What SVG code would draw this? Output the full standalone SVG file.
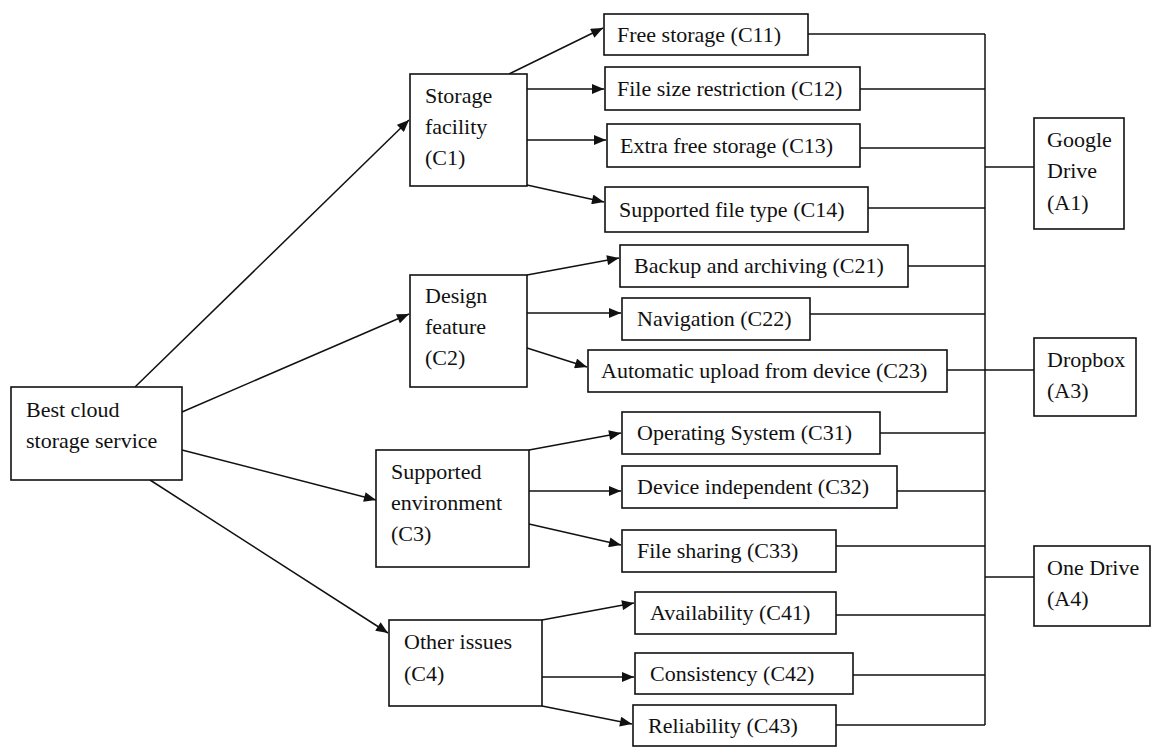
<svg xmlns="http://www.w3.org/2000/svg" width="1161" height="747" viewBox="0 0 1161 747">
<style>
.b{fill:#fff;stroke:#111;stroke-width:1.6}
.t{font-family:"Liberation Serif","Times New Roman",serif;font-size:22px;fill:#111}
.c{stroke:#111;stroke-width:1.5;fill:none}
</style>
<defs>
<marker id="ah" viewBox="0 0 12 10" refX="12" refY="5" markerWidth="13" markerHeight="10" markerUnits="userSpaceOnUse" orient="auto">
<path d="M0,0 L12,5 L0,10 Z" fill="#111"/>
</marker>
</defs>
<rect width="1161" height="747" fill="#fff"/>
<g id="connectors">
<line class="c" x1="135" y1="387" x2="409" y2="120" marker-end="url(#ah)"/>
<line class="c" x1="182" y1="412" x2="409" y2="314" marker-end="url(#ah)"/>
<line class="c" x1="182" y1="450" x2="376" y2="500" marker-end="url(#ah)"/>
<line class="c" x1="150" y1="480" x2="388" y2="633" marker-end="url(#ah)"/>
<line class="c" x1="509" y1="74" x2="603" y2="28" marker-end="url(#ah)"/>
<line class="c" x1="527" y1="89" x2="604" y2="89" marker-end="url(#ah)"/>
<line class="c" x1="527" y1="140" x2="606" y2="140" marker-end="url(#ah)"/>
<line class="c" x1="527" y1="185" x2="604" y2="202" marker-end="url(#ah)"/>
<line class="c" x1="527" y1="275" x2="619" y2="258" marker-end="url(#ah)"/>
<line class="c" x1="527" y1="313" x2="621" y2="313" marker-end="url(#ah)"/>
<line class="c" x1="527" y1="348" x2="587" y2="367" marker-end="url(#ah)"/>
<line class="c" x1="529" y1="450" x2="621" y2="433" marker-end="url(#ah)"/>
<line class="c" x1="529" y1="491" x2="621" y2="491" marker-end="url(#ah)"/>
<line class="c" x1="529" y1="524" x2="621" y2="545" marker-end="url(#ah)"/>
<line class="c" x1="542" y1="620" x2="634" y2="603" marker-end="url(#ah)"/>
<line class="c" x1="542" y1="677" x2="634" y2="677" marker-end="url(#ah)"/>
<line class="c" x1="542" y1="706" x2="632" y2="724" marker-end="url(#ah)"/>
<line class="c" x1="985" y1="34" x2="985" y2="725"/>
<line class="c" x1="808" y1="34" x2="985" y2="34"/>
<line class="c" x1="860" y1="89" x2="985" y2="89"/>
<line class="c" x1="860" y1="148" x2="985" y2="148"/>
<line class="c" x1="868" y1="208" x2="985" y2="208"/>
<line class="c" x1="908" y1="266" x2="985" y2="266"/>
<line class="c" x1="810" y1="314" x2="985" y2="314"/>
<line class="c" x1="947" y1="370" x2="1034" y2="370"/>
<line class="c" x1="880" y1="433" x2="985" y2="433"/>
<line class="c" x1="897" y1="491" x2="985" y2="491"/>
<line class="c" x1="836" y1="546" x2="985" y2="546"/>
<line class="c" x1="836" y1="615" x2="985" y2="615"/>
<line class="c" x1="853" y1="675" x2="985" y2="675"/>
<line class="c" x1="836" y1="725" x2="985" y2="725"/>
<line class="c" x1="985" y1="167" x2="1034" y2="167"/>
<line class="c" x1="985" y1="577" x2="1034" y2="577"/>
</g>
<g id="root"><rect class="b" x="11" y="387" width="171" height="93"/><text class="t" x="26" y="417">Best cloud</text><text class="t" x="26" y="448">storage service</text></g>
<g id="C1"><rect class="b" x="410" y="74" width="117" height="112"/><text class="t" x="425" y="103">Storage</text><text class="t" x="425" y="134">facility</text><text class="t" x="425" y="165">(C1)</text></g>
<g id="C2"><rect class="b" x="410" y="275" width="117" height="112"/><text class="t" x="425" y="303">Design</text><text class="t" x="425" y="334">feature</text><text class="t" x="425" y="365">(C2)</text></g>
<g id="C3"><rect class="b" x="376" y="450" width="153" height="117"/><text class="t" x="391" y="479">Supported</text><text class="t" x="391" y="510">environment</text><text class="t" x="391" y="541">(C3)</text></g>
<g id="C4"><rect class="b" x="389" y="620" width="153" height="86"/><text class="t" x="404" y="649">Other issues</text><text class="t" x="404" y="681">(C4)</text></g>
<g id="C11"><rect class="b" x="604" y="14" width="204" height="41"/><text class="t" x="617" y="42">Free storage (C11)</text></g>
<g id="C12"><rect class="b" x="605" y="67" width="255" height="43"/><text class="t" x="617" y="96">File size restriction (C12)</text></g>
<g id="C13"><rect class="b" x="607" y="124" width="253" height="43"/><text class="t" x="620" y="153">Extra free storage (C13)</text></g>
<g id="C14"><rect class="b" x="605" y="187" width="263" height="45"/><text class="t" x="619" y="217">Supported file type (C14)</text></g>
<g id="C21"><rect class="b" x="620" y="245" width="288" height="42"/><text class="t" x="634" y="273">Backup and archiving (C21)</text></g>
<g id="C22"><rect class="b" x="622" y="298" width="188" height="42"/><text class="t" x="637" y="326">Navigation (C22)</text></g>
<g id="C23"><rect class="b" x="588" y="350" width="359" height="42"/><text class="t" x="601" y="378">Automatic upload from device (C23)</text></g>
<g id="C31"><rect class="b" x="622" y="412" width="258" height="42"/><text class="t" x="637" y="440">Operating System (C31)</text></g>
<g id="C32"><rect class="b" x="622" y="466" width="275" height="42"/><text class="t" x="637" y="494">Device independent (C32)</text></g>
<g id="C33"><rect class="b" x="622" y="530" width="214" height="42"/><text class="t" x="637" y="558">File sharing (C33)</text></g>
<g id="C41"><rect class="b" x="635" y="592" width="201" height="42"/><text class="t" x="650" y="620">Availability (C41)</text></g>
<g id="C42"><rect class="b" x="635" y="653" width="218" height="41"/><text class="t" x="650" y="681">Consistency (C42)</text></g>
<g id="C43"><rect class="b" x="633" y="705" width="203" height="41"/><text class="t" x="648" y="733">Reliability (C43)</text></g>
<g id="A1"><rect class="b" x="1034" y="118" width="90" height="111"/><text class="t" x="1047" y="147">Google</text><text class="t" x="1047" y="178">Drive</text><text class="t" x="1047" y="210">(A1)</text></g>
<g id="A3"><rect class="b" x="1034" y="338" width="102" height="78"/><text class="t" x="1047" y="367">Dropbox</text><text class="t" x="1047" y="398">(A3)</text></g>
<g id="A4"><rect class="b" x="1034" y="546" width="116" height="80"/><text class="t" x="1047" y="575">One Drive</text><text class="t" x="1047" y="606">(A4)</text></g>
</svg>
